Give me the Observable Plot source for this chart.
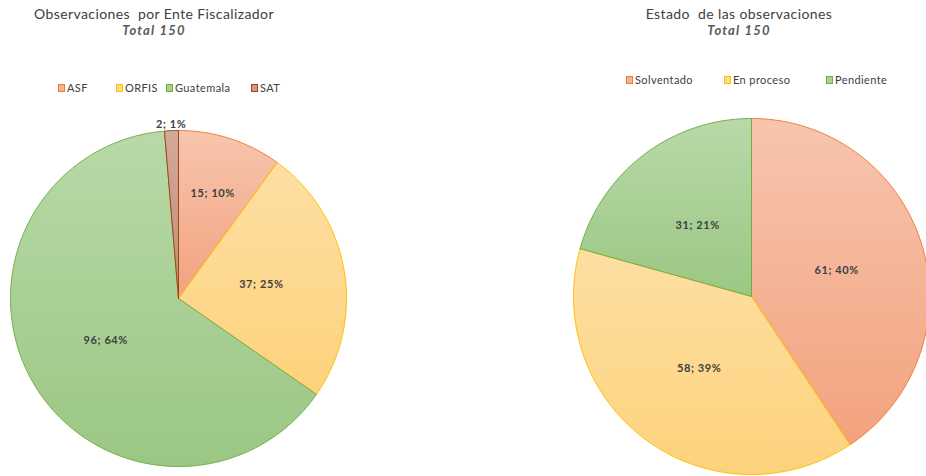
<!DOCTYPE html>
<html><head><meta charset="utf-8">
<script src="https://cdn.jsdelivr.net/npm/d3@7"></script>
<script src="https://cdn.jsdelivr.net/npm/@observablehq/plot@0.6"></script>
<style>
body{margin:0;background:#fff;font-family:Lato,"Open Sans",sans-serif;}
#wrap{position:relative;width:926px;height:476px;overflow:hidden;background:#fff;}
.title{position:absolute;width:340px;text-align:center;color:#404040;font-size:14px;line-height:17px;letter-spacing:0.4px;}
.title .sub{font-style:italic;font-weight:bold;color:#595959;letter-spacing:1.2px;font-size:13px;}
.leg{position:absolute;font-size:11px;color:#404040;white-space:nowrap;line-height:11px;letter-spacing:0.4px;}
.sw{display:inline-block;width:5px;height:6px;border:1px solid;margin-right:2px;vertical-align:0px;}
.pie{position:absolute;}
</style></head>
<body><div id="wrap"></div>
<script>
// ---- data ----
const enteCategories = ["ASF", "ORFIS", "Guatemala", "SAT"];
const enteValues = [15, 37, 96, 2];
const enteShares = [10, 25, 64, 1];
const estadoCategories = ["Solventado", "En proceso", "Pendiente"];
const estadoValues = [61, 58, 31];
const estadoShares = [40, 39, 21];

// ---- styles ----
const palette = {
  orange: {light: "#f7c5ae", dark: "#f3a27e", stroke: "#ed7d31", sw: "#f4b08f"},
  yellow: {light: "#fedfa3", dark: "#fdd27c", stroke: "#ffc000", sw: "#fed98f"},
  green:  {light: "#b9d9a8", dark: "#9bc783", stroke: "#70ad47", sw: "#a9d08e"},
  brown:  {light: "#d4a89b", dark: "#c08d7c", stroke: "#9e480e", sw: "#c9998a"}
};
const enteColors = ["orange", "yellow", "green", "brown"];
const estadoColors = ["orange", "yellow", "green"];

const wrap = document.getElementById("wrap");

function addTitle(text, total, cx) {
  const d = document.createElement("div");
  d.className = "title";
  d.style.left = (cx - 170) + "px";
  d.style.top = "5px";
  d.innerHTML = `<div>${text}</div><div class="sub">Total ${total}</div>`;
  wrap.appendChild(d);
}

function addLegend(cats, colors, xs, y) {
  cats.forEach((c, i) => {
    const p = palette[colors[i]];
    const d = document.createElement("div");
    d.className = "leg";
    d.style.left = xs[i] + "px";
    d.style.top = (y - 6) + "px";
    d.innerHTML = `<span class="sw" style="background:${p.sw};border-color:${p.stroke}"></span>${c}`;
    wrap.appendChild(d);
  });
}

function pie(cats, vals, shares, colors, idp, cx, cy, r, pad) {
  const arcs = d3.pie().sort(null).value(d => d)(vals);
  const S = r + pad;
  const slices = arcs.map((a, i) => {
    const n = Math.max(2, Math.ceil((a.endAngle - a.startAngle) / 0.01));
    const pts = [{x: 0, y: 0}];
    for (let k = 0; k <= n; k++) {
      const t = a.startAngle + (a.endAngle - a.startAngle) * k / n;
      pts.push({x: r * Math.sin(t), y: r * Math.cos(t)});
    }
    pts.push({x: 0, y: 0});
    const span = a.endAngle - a.startAngle;
    const mid = (a.startAngle + a.endAngle) / 2;
    const lr = span < 0.15 ? r + 6 : span < 0.8 ? r * 0.66 : r * 0.5;
    return {pts, i, label: {x: lr * Math.sin(mid), y: lr * Math.cos(mid), text: `${vals[i]}; ${shares[i]}%`}};
  });
  const marks = slices.map(s => Plot.line(s.pts, {
    x: "x", y: "y",
    fill: `url(#${idp}${s.i})`,
    stroke: palette[colors[s.i]].stroke,
    strokeWidth: 1,
    strokeLinejoin: "round"
  }));
  marks.push(Plot.text(slices.map(s => s.label), {
    x: "x", y: "y", text: "text",
    fontSize: 11, fontWeight: "bold", fill: "#404040",
    fontFamily: "Lato, sans-serif",
    style: {letterSpacing: "0.6px"}
  }));
  const svg = Plot.plot({
    width: 2 * S, height: 2 * S,
    margin: 0,
    x: {domain: [-S, S], axis: null},
    y: {domain: [-S, S], axis: null},
    style: {background: "transparent", overflow: "visible"},
    marks
  });
  const ns = "http://www.w3.org/2000/svg";
  const defs = document.createElementNS(ns, "defs");
  colors.forEach((c, i) => {
    const lg = document.createElementNS(ns, "linearGradient");
    lg.setAttribute("id", idp + i);
    lg.setAttribute("x1", 0); lg.setAttribute("y1", 0);
    lg.setAttribute("x2", 0); lg.setAttribute("y2", 1);
    [[0, palette[c].light], [1, palette[c].dark]].forEach(([o, col]) => {
      const st = document.createElementNS(ns, "stop");
      st.setAttribute("offset", o);
      st.setAttribute("stop-color", col);
      lg.appendChild(st);
    });
    defs.appendChild(lg);
  });
  svg.insertBefore(defs, svg.firstChild);
  svg.querySelectorAll("text").forEach(t => t.style.letterSpacing = "0.6px");
  svg.classList.add("pie");
  svg.style.left = (cx - S) + "px";
  svg.style.top = (cy - S) + "px";
  wrap.appendChild(svg);
}

pie(enteCategories, enteValues, enteShares, enteColors, "gE", 178, 298, 168, 14);
pie(estadoCategories, estadoValues, estadoShares, estadoColors, "gS", 751, 296, 178, 8);

addTitle("Observaciones&nbsp; por Ente Fiscalizador", d3.sum(enteValues), 154);
addTitle("Estado&nbsp; de las observaciones", d3.sum(estadoValues), 739);
addLegend(enteCategories, enteColors, [58, 116, 166, 251], 88);
addLegend(estadoCategories, estadoColors, [626, 724, 826], 80);
</script>
</body></html>
